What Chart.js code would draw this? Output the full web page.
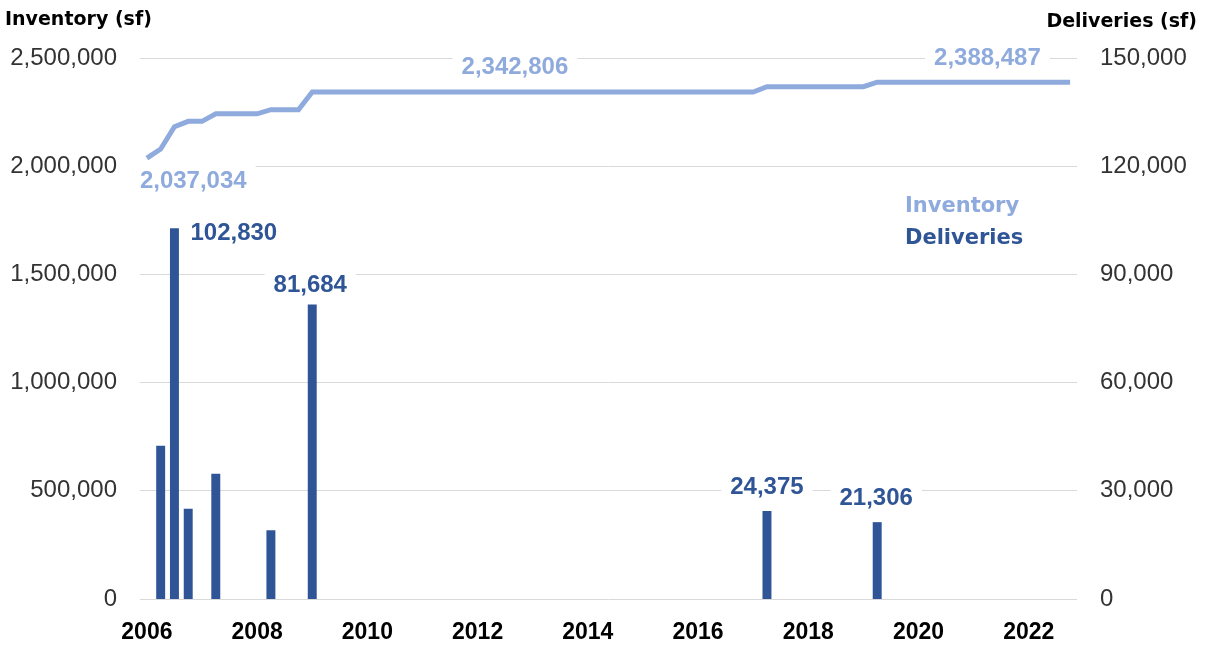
<!DOCTYPE html>
<html>
<head>
<meta charset="utf-8">
<script src="https://cdn.jsdelivr.net/npm/chart.js@4/dist/chart.umd.min.js"></script>
<style>
  html, body { margin: 0; padding: 0; background: #ffffff; }
  #wrap { position: relative; width: 1206px; height: 646px; }
</style>
</head>
<body>
<div id="wrap"><canvas id="c" width="1206" height="646"></canvas></div>
<script>
// ---- Data ----
const quarters = [
  "2006 Q1","2006 Q2","2006 Q3","2006 Q4",
  "2007 Q1","2007 Q2","2007 Q3","2007 Q4",
  "2008 Q1","2008 Q2","2008 Q3","2008 Q4",
  "2009 Q1","2009 Q2","2009 Q3","2009 Q4",
  "2010 Q1","2010 Q2","2010 Q3","2010 Q4",
  "2011 Q1","2011 Q2","2011 Q3","2011 Q4",
  "2012 Q1","2012 Q2","2012 Q3","2012 Q4",
  "2013 Q1","2013 Q2","2013 Q3","2013 Q4",
  "2014 Q1","2014 Q2","2014 Q3","2014 Q4",
  "2015 Q1","2015 Q2","2015 Q3","2015 Q4",
  "2016 Q1","2016 Q2","2016 Q3","2016 Q4",
  "2017 Q1","2017 Q2","2017 Q3","2017 Q4",
  "2018 Q1","2018 Q2","2018 Q3","2018 Q4",
  "2019 Q1","2019 Q2","2019 Q3","2019 Q4",
  "2020 Q1","2020 Q2","2020 Q3","2020 Q4",
  "2021 Q1","2021 Q2","2021 Q3","2021 Q4",
  "2022 Q1","2022 Q2","2022 Q3","2022 Q4"
];

const inventory = [
  2037034, 2079534, 2182364, 2207364,
  2207364, 2242064, 2242064, 2242064,
  2242064, 2261122, 2261122, 2261122,
  2342806, 2342806, 2342806, 2342806,
  2342806, 2342806, 2342806, 2342806,
  2342806, 2342806, 2342806, 2342806,
  2342806, 2342806, 2342806, 2342806,
  2342806, 2342806, 2342806, 2342806,
  2342806, 2342806, 2342806, 2342806,
  2342806, 2342806, 2342806, 2342806,
  2342806, 2342806, 2342806, 2342806,
  2342806, 2367181, 2367181, 2367181,
  2367181, 2367181, 2367181, 2367181,
  2367181, 2388487, 2388487, 2388487,
  2388487, 2388487, 2388487, 2388487,
  2388487, 2388487, 2388487, 2388487,
  2388487, 2388487, 2388487, 2388487
];

const deliveries = [
  0, 42500, 102830, 25000,
  0, 34700, 0, 0,
  0, 19058, 0, 0,
  81684, 0, 0, 0,
  0, 0, 0, 0,
  0, 0, 0, 0,
  0, 0, 0, 0,
  0, 0, 0, 0,
  0, 0, 0, 0,
  0, 0, 0, 0,
  0, 0, 0, 0,
  0, 24375, 0, 0,
  0, 0, 0, 0,
  0, 21306, 0, 0,
  0, 0, 0, 0,
  0, 0, 0, 0,
  0, 0, 0, 0
];

const inventoryTicks = [0, 500000, 1000000, 1500000, 2000000, 2500000];
const deliveryTicks = [0, 30000, 60000, 90000, 120000, 150000];
const yearTickLabels = ["2006","2008","2010","2012","2014","2016","2018","2020","2022"];

// which points get a value label
const labelledInventory = [0, 27, 61];
const labelledDeliveries = [2, 12, 45, 53];

// ---- Styling ----
const INV_COLOR = "#8FAADC";
const DEL_COLOR = "#2F5597";
const GRID_COLOR = "#D9D9D9";
const TICK_FONT = "Liberation Sans";
const fmt = v => Number(v).toLocaleString("en-US");

// label placement styles (offsets from the element position)
const labelStyle = {
  "1:0":  { align: "left",   dx: -7,  dy: 23,  bg: true },
  "1:27": { align: "center", dx: -4,  dy: -25, bg: true },
  "1:61": { align: "center", dx: 0,   dy: -24, bg: true },
  "0:2":  { align: "left",   dx: 16,  dy: 5,   bg: false },
  "0:12": { align: "center", dx: -2,  dy: -19, bg: true },
  "0:45": { align: "center", dx: 0,   dy: -24, bg: true },
  "0:53": { align: "center", dx: -1,  dy: -24, bg: true }
};

const valueLabels = {
  id: "valueLabels",
  afterDatasetsDraw(chart) {
    const ctx = chart.ctx;
    ctx.save();
    ctx.font = "bold 24px '" + TICK_FONT + "'";
    ctx.textBaseline = "middle";
    const items = [];
    labelledDeliveries.forEach(i => items.push([0, i]));
    labelledInventory.forEach(i => items.push([1, i]));
    items.forEach(([ds, i]) => {
      const el = chart.getDatasetMeta(ds).data[i];
      const st = labelStyle[ds + ":" + i];
      const text = fmt(chart.data.datasets[ds].data[i]);
      const w = ctx.measureText(text).width;
      const x = el.x + st.dx;
      const y = el.y + st.dy;
      const left = st.align === "center" ? x - w / 2 : x;
      if (st.bg) {
        ctx.fillStyle = "#ffffff";
        ctx.fillRect(left - 9, y - 16, w + 18, 32);
      }
      ctx.fillStyle = ds === 0 ? DEL_COLOR : INV_COLOR;
      ctx.textAlign = "left";
      ctx.fillText(text, left, y);
    });
    ctx.restore();
  }
};

const annotations = {
  id: "annotations",
  afterDraw(chart) {
    const ctx = chart.ctx;
    ctx.save();
    ctx.textBaseline = "middle";
    ctx.font = "bold 19px 'DejaVu Sans'";
    ctx.fillStyle = "#000000";
    ctx.textAlign = "left";
    ctx.fillText("Inventory (sf)", 5, 20);
    ctx.textAlign = "right";
    ctx.fillText("Deliveries (sf)", 1197, 22);
    ctx.font = "bold 21px 'DejaVu Sans'";
    ctx.textAlign = "left";
    ctx.fillStyle = INV_COLOR;
    ctx.fillText("Inventory", 905, 207);
    ctx.fillStyle = DEL_COLOR;
    ctx.fillText("Deliveries", 905, 239);
    ctx.restore();
  }
};

new Chart(document.getElementById("c"), {
  data: {
    labels: quarters,
    datasets: [
      {
        type: "bar",
        label: "Deliveries",
        data: deliveries,
        yAxisID: "y1",
        backgroundColor: DEL_COLOR,
        borderWidth: 0,
        categoryPercentage: 1.0,
        barPercentage: 0.65,
        order: 2
      },
      {
        type: "line",
        label: "Inventory",
        data: inventory,
        yAxisID: "y",
        borderColor: INV_COLOR,
        borderWidth: 5,
        pointRadius: 0,
        tension: 0,
        fill: false,
        order: 1
      }
    ]
  },
  options: {
    responsive: false,
    animation: false,
    layout: { padding: { top: 58, bottom: 0, left: 0, right: 0 } },
    plugins: {
      legend: { display: false },
      tooltip: { enabled: false },
      title: { display: false }
    },
    scales: {
      x: {
        type: "category",
        offset: true,
        grid: { display: false, drawTicks: false },
        border: { display: false },
        ticks: {
          autoSkip: false,
          maxRotation: 0,
          minRotation: 0,
          padding: 20,
          color: "#000000",
          font: { family: TICK_FONT, size: 23, weight: "bold" },
          callback: function(val, idx) {
            const lab = quarters[idx];
            const yr = lab.slice(0, 4);
            return (lab.endsWith("Q1") && yearTickLabels.includes(yr)) ? yr : "";
          }
        },
        afterFit: s => { s.height = 47; }
      },
      y: {
        position: "left",
        min: 0,
        max: 2500000,
        grid: { color: GRID_COLOR, lineWidth: 1, drawTicks: false },
        border: { display: false },
        afterBuildTicks: s => { s.ticks = inventoryTicks.map(v => ({ value: v })); },
        ticks: {
          padding: 23,
          color: "#333333",
          font: { family: TICK_FONT, size: 24 },
          callback: v => fmt(v)
        },
        afterFit: s => { s.width = 140; }
      },
      y1: {
        position: "right",
        min: 0,
        max: 150000,
        grid: { display: false, drawTicks: false },
        border: { display: false },
        afterBuildTicks: s => { s.ticks = deliveryTicks.map(v => ({ value: v })); },
        ticks: {
          padding: 23,
          color: "#333333",
          font: { family: TICK_FONT, size: 24 },
          callback: v => fmt(v)
        },
        afterFit: s => { s.width = 129; }
      }
    }
  },
  plugins: [valueLabels, annotations]
});
</script>
</body>
</html>
